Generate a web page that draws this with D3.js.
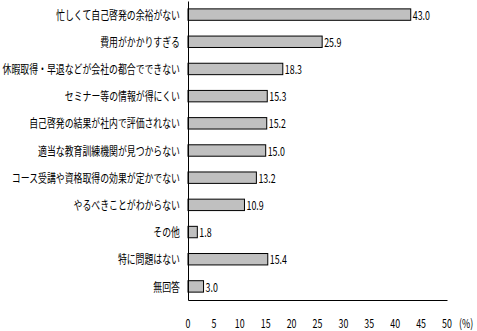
<!DOCTYPE html>
<html>
<head>
<meta charset="utf-8">
<script src="https://cdn.jsdelivr.net/npm/d3@7"></script>
<style>
  body { margin: 0; background: #fff; }
  svg text { font-family: "Noto Sans CJK JP", sans-serif; fill: #000; }
</style>
</head>
<body>
<div class="chart"></div>
<script>
// DATA
const CATEGORIES = [
  "忙しくて自己啓発の余裕がない",
  "費用がかかりすぎる",
  "休暇取得・早退などが会社の都合でできない",
  "セミナー等の情報が得にくい",
  "自己啓発の結果が社内で評価されない",
  "適当な教育訓練機関が見つからない",
  "コース受講や資格取得の効果が定かでない",
  "やるべきことがわからない",
  "その他",
  "特に問題はない",
  "無回答"
];
const VALUES = [43.0, 25.9, 18.3, 15.3, 15.2, 15.0, 13.2, 10.9, 1.8, 15.4, 3.0];
const X_TICKS = [0, 5, 10, 15, 20, 25, 30, 35, 40, 45, 50];

// GLOBAL CONSTANTS
const FRAME_WIDTH = 477;
const FRAME_HEIGHT = 331;
const MARGINS = {left: 188, right: 30, top: 1, bottom: 31};
const SQUEEZE = 0.74; // narrow glyphs like the original bitmap font

const FRAME = d3.select(".chart")
  .append("svg")
    .attr("width", FRAME_WIDTH)
    .attr("height", FRAME_HEIGHT);

const X_SCALE = d3.scaleLinear()
  .domain([0, 50])
  .range([MARGINS.left, FRAME_WIDTH - MARGINS.right]);

const Y_SCALE = d3.scaleBand()
  .domain(CATEGORIES)
  .range([MARGINS.top, FRAME_HEIGHT - MARGINS.bottom])
  .paddingInner(0.58)
  .paddingOuter(0.29);

const data = CATEGORIES.map((c, i) => ({cat: c, val: VALUES[i]}));

// bars
FRAME.selectAll(".bar")
  .data(data)
  .enter()
  .append("rect")
    .attr("class", "bar")
    .attr("x", X_SCALE(0))
    .attr("y", (d) => Y_SCALE(d.cat))
    .attr("width", (d) => X_SCALE(d.val) - X_SCALE(0))
    .attr("height", Y_SCALE.bandwidth())
    .attr("fill", "#c0c0c0")
    .attr("stroke", "#000")
    .attr("stroke-width", 1);

// value labels
FRAME.selectAll(".val")
  .data(data)
  .enter()
  .append("text")
    .attr("class", "val")
    .attr("transform", (d) => "translate(" + (X_SCALE(d.val) + 2) + "," +
          (Y_SCALE(d.cat) + Y_SCALE.bandwidth() / 2) + ") scale(" + SQUEEZE + ",1)")
    .attr("dominant-baseline", "central")
    .attr("font-size", "12px")
    .text((d) => d.val.toFixed(1));

// category labels
FRAME.selectAll(".cat")
  .data(data)
  .enter()
  .append("text")
    .attr("class", "cat")
    .attr("transform", (d) => "translate(" + (MARGINS.left - 8) + "," +
          (Y_SCALE(d.cat) + Y_SCALE.bandwidth() / 2) + ") scale(" + SQUEEZE + ",1)")
    .attr("text-anchor", "end")
    .attr("dominant-baseline", "central")
    .attr("font-size", "12px")
    .text((d) => d.cat);

// axes (lines only)
const yAxis = d3.axisLeft(Y_SCALE).tickSize(0).tickFormat("");
FRAME.append("g")
  .attr("transform", "translate(" + MARGINS.left + ",0)")
  .call(yAxis)
  .select(".domain").attr("stroke", "#000");

const xAxis = d3.axisBottom(X_SCALE).tickValues(X_TICKS).tickSize(0).tickFormat("");
FRAME.append("g")
  .attr("transform", "translate(0," + (FRAME_HEIGHT - MARGINS.bottom) + ")")
  .call(xAxis)
  .select(".domain").attr("stroke", "#000");

// tick labels
FRAME.selectAll(".tick-label")
  .data(X_TICKS)
  .enter()
  .append("text")
    .attr("class", "tick-label")
    .attr("transform", (d) => "translate(" + X_SCALE(d) + "," + 323 + ") scale(" + SQUEEZE + ",1)")
    .attr("text-anchor", "middle")
    .attr("dominant-baseline", "central")
    .attr("font-size", "12px")
    .text((d) => d);

FRAME.append("text")
  .attr("transform", "translate(" + (X_SCALE(50) + 12) + ",323) scale(" + SQUEEZE + ",1)")
  .attr("dominant-baseline", "central")
  .attr("font-size", "12px")
  .text("(%)");
</script>
</body>
</html>
